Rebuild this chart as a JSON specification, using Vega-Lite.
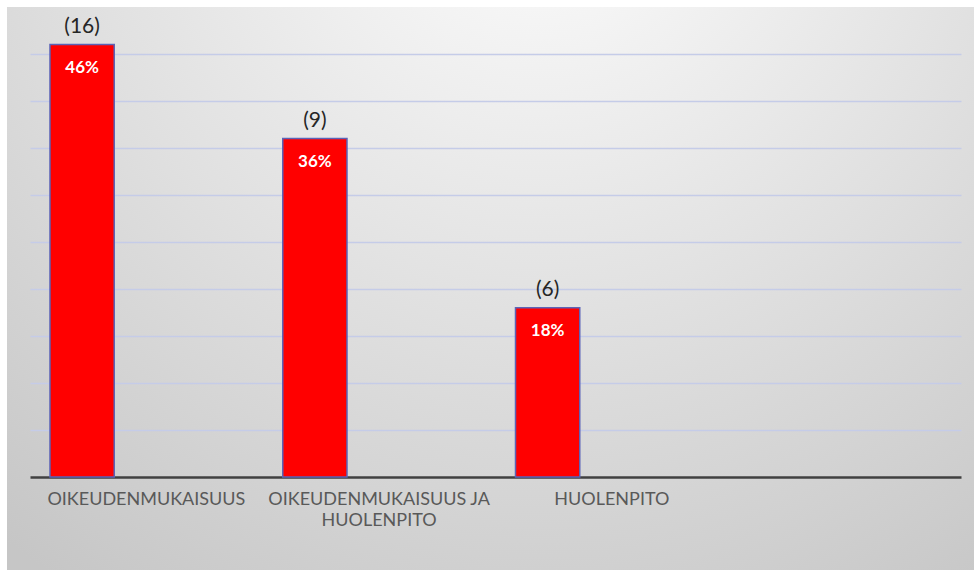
{
  "$schema": "https://vega.github.io/schema/vega-lite/v6.json",
  "width": 967,
  "height": 563,
  "autosize": {"type": "none"},
  "padding": {"left": 7, "top": 7, "right": 0, "bottom": 5},
  "background": "#ffffff",
  "view": {
    "stroke": null,
    "fill": {
      "gradient": "radial",
      "x1": 0.55, "y1": 0.05, "r1": 0,
      "x2": 0.55, "y2": 0.05, "r2": 0.9,
      "stops": [
        {"offset": 0, "color": "#ffffff"},
        {"offset": 1, "color": "#c6c6c6"}
      ]
    }
  },
  "config": {"font": "Lato"},
  "data": {
    "values": [
      {"kategoria": "OIKEUDENMUKAISUUS", "sarja": "A", "osuus": 0.46, "lkm": "(16)"},
      {"kategoria": "OIKEUDENMUKAISUUS JA HUOLENPITO", "sarja": "A", "osuus": 0.36, "lkm": "(9)"},
      {"kategoria": "HUOLENPITO", "sarja": "A", "osuus": 0.18, "lkm": "(6)"}
    ]
  },
  "encoding": {
    "x": {
      "field": "kategoria",
      "type": "nominal",
      "sort": null,
      "scale": {
        "domain": ["OIKEUDENMUKAISUUS", "OIKEUDENMUKAISUUS JA HUOLENPITO", "HUOLENPITO", " "],
        "range": [23, 954],
        "paddingInner": 0.1719,
        "paddingOuter": 0.0859
      },
      "axis": {
        "title": null,
        "offset": -93,
        "labelAngle": 0,
        "labelLimit": 0,
        "labelFont": "Lato",
        "labelFontSize": 18,
        "labelColor": "#595959",
        "labelPadding": 13,
        "labelLineHeight": 21,
        "labelExpr": "datum.value == 'OIKEUDENMUKAISUUS JA HUOLENPITO' ? ['OIKEUDENMUKAISUUS JA', 'HUOLENPITO'] : datum.value",
        "ticks": false,
        "domain": true,
        "domainColor": "#404040",
        "domainWidth": 2.5,
        "grid": false
      }
    },
    "xOffset": {
      "field": "sarja",
      "type": "nominal",
      "scale": {"domain": ["A", "B", "C"], "paddingInner": 0, "paddingOuter": 0}
    },
    "y": {
      "field": "osuus",
      "type": "quantitative",
      "scale": {"domain": [-0.0989, 0.5], "nice": false, "zero": false},
      "axis": {
        "title": null,
        "values": [0.05, 0.1, 0.15, 0.2, 0.25, 0.3, 0.35, 0.4, 0.45],
        "grid": true,
        "gridColor": "#c5cce8",
        "gridWidth": 1.5,
        "labels": false,
        "ticks": false,
        "domain": false
      }
    }
  },
  "layer": [
    {
      "mark": {"type": "bar", "color": "#ff0000", "stroke": "#5b63b7", "strokeWidth": 1.5},
      "encoding": {"y2": {"datum": 0}}
    },
    {
      "mark": {"type": "text", "font": "Lato", "fontSize": 21, "color": "#262626", "baseline": "alphabetic", "dy": -12},
      "encoding": {"text": {"field": "lkm", "type": "nominal"}}
    },
    {
      "mark": {"type": "text", "font": "Lato", "fontSize": 17, "fontWeight": "bold", "color": "#ffffff", "baseline": "alphabetic", "dy": 28},
      "encoding": {"text": {"field": "osuus", "type": "quantitative", "format": ".0%"}}
    }
  ]
}
